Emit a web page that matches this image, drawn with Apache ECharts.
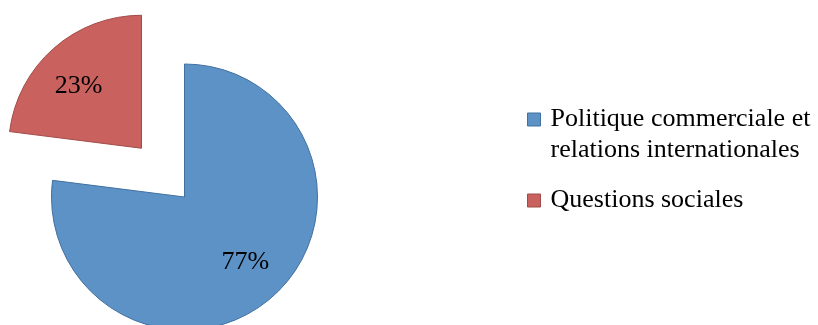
<!DOCTYPE html>
<html><head><meta charset="utf-8">
<script src="https://cdn.jsdelivr.net/npm/echarts@6/dist/echarts.min.js"></script>
<style>html,body{margin:0;padding:0;background:#fff}#c{width:818px;height:325px}</style>
</head><body><div id="c"></div>
<script>
var categories = ["Politique commerciale et relations internationales", "Questions sociales"];
var values = [77, 23];
var colors = ["#5D92C7", "#C9625E"];
var borders = ["#41709F", "#A24A47"];
var exploded = [false, true];
var labelShift = [[0, -4], [-2, 7]];

var chart = echarts.init(document.getElementById('c'), null, {renderer: 'canvas'});
var data = categories.map(function (n, i) {
  return {name: n, value: values[i], selected: exploded[i],
    itemStyle: {color: colors[i], borderColor: borders[i], borderWidth: 1}};
});
var labelData = categories.map(function (n, i) {
  return {name: n, value: values[i], selected: exploded[i],
    label: {offset: labelShift[i]}, select: {label: {offset: labelShift[i]}}};
});
chart.setOption({
  animation: false,
  legend: {
    orient: 'vertical', left: 527, top: 73, padding: 0, itemWidth: 13, itemHeight: 13, itemGap: 19,
    icon: 'rect',
    data: categories,
    formatter: function (n) { return n.indexOf(' et ') >= 0 ? '\n' + n.replace(' et ', ' et\n') : n; },
    textStyle: {fontFamily: 'Liberation Serif', fontSize: 26, lineHeight: 31, color: '#000', padding: [0, 0, 0, 5]},
    itemStyle: {borderWidth: 1}
  },
  series: [{
    type: 'pie', center: [184.5, 197], radius: 133, startAngle: 90,
    selectedMode: 'single', selectedOffset: 65, silent: true,
    label: {show: false}, labelLine: {show: false},
    emphasis: {disabled: true},
    data: data
  }, {
    type: 'pie', center: [184.5, 197], radius: 178, startAngle: 90,
    selectedMode: 'single', selectedOffset: 65, silent: true, legendHoverLink: false,
    itemStyle: {color: 'rgba(0,0,0,0)', borderWidth: 0},
    label: {show: true, position: 'inside', formatter: '{c}%', fontFamily: 'Liberation Serif', fontSize: 26, color: '#000'},
    labelLine: {show: false},
    emphasis: {disabled: true},
    data: labelData
  }]
});
</script></body></html>
